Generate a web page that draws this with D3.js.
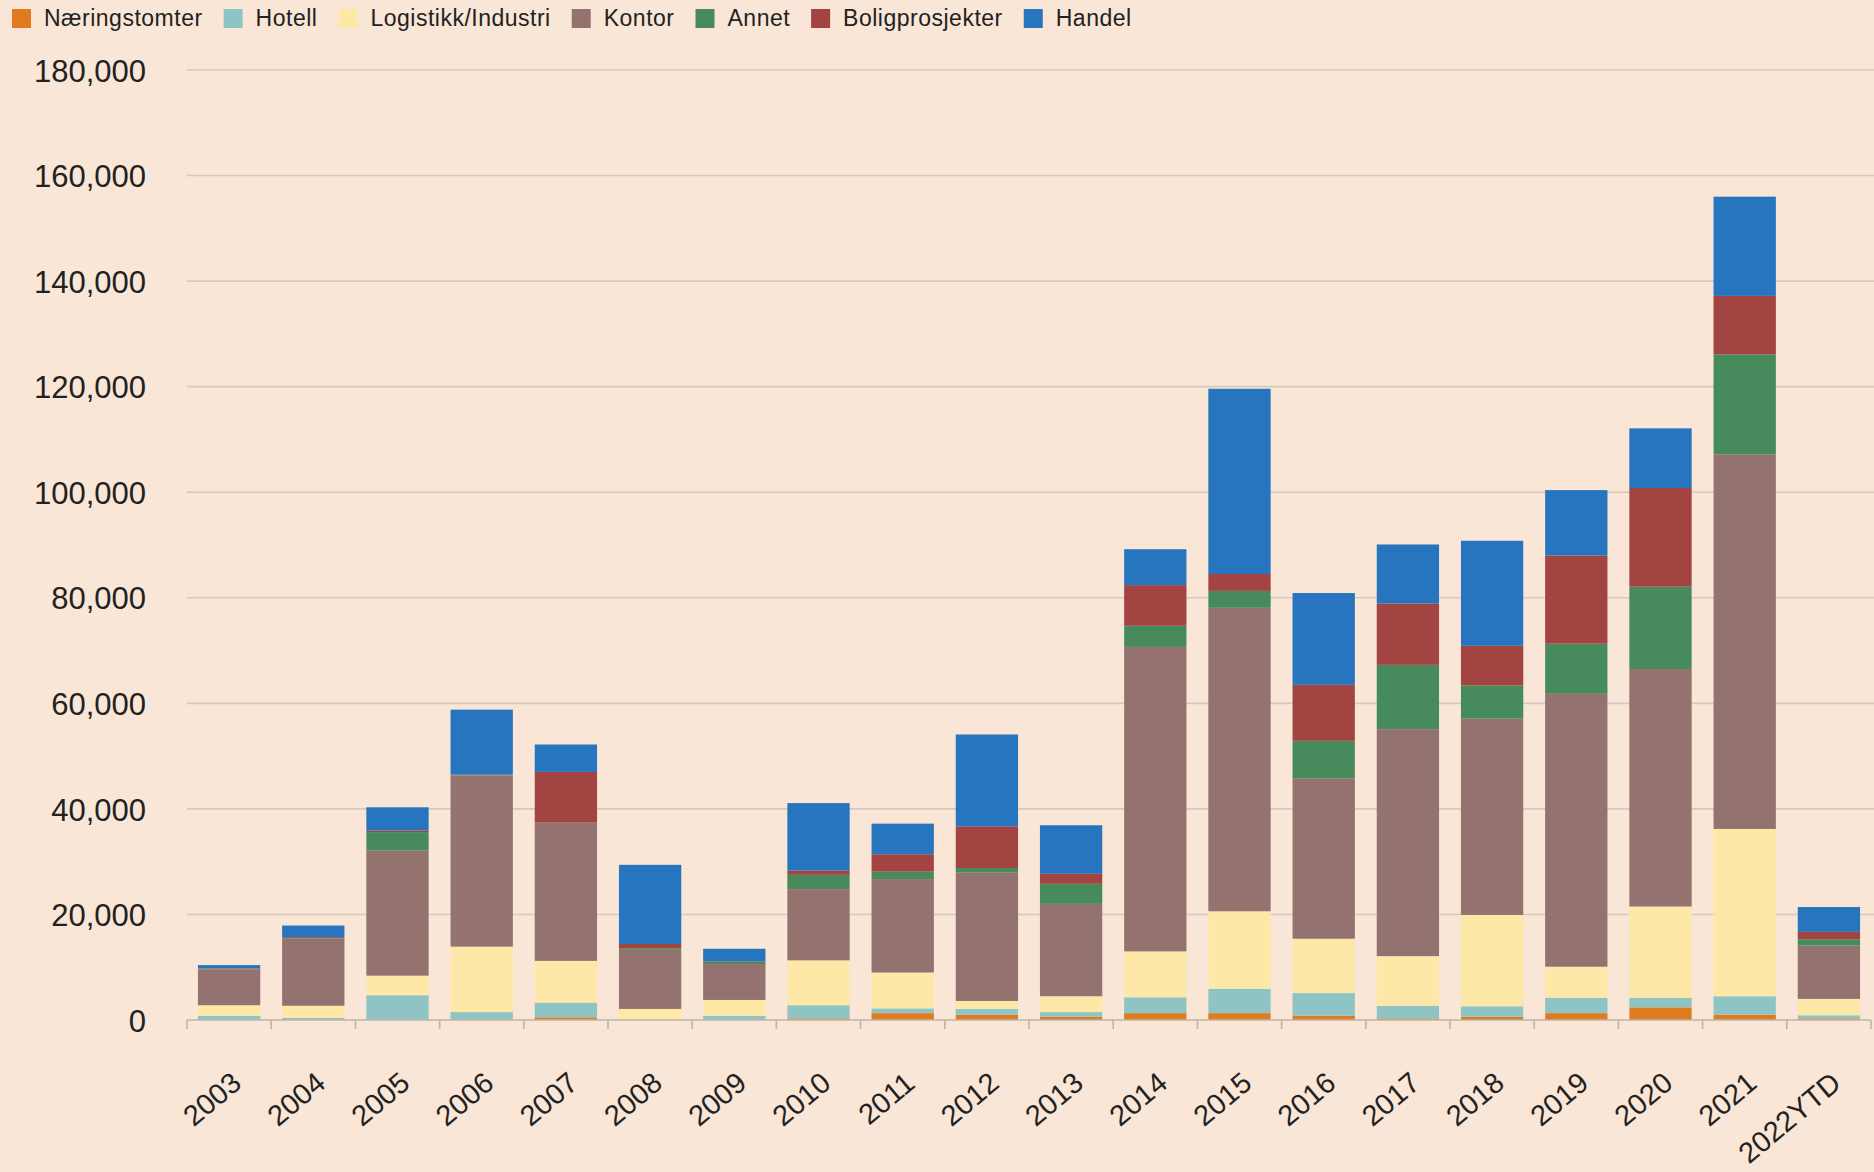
<!DOCTYPE html>
<html>
<head>
<meta charset="utf-8">
<script src="https://cdn.jsdelivr.net/npm/d3@7"></script>
<style>
	html, body { margin: 0; padding: 0; background: #f9e6d6; }
	svg { display: block; font-family: "Liberation Sans", Arial, Helvetica, sans-serif; }
</style>
</head>
<body>
<svg id="chart" width="1874" height="1172"></svg>
<script>
// values in the same unit as the y axis, stacked bottom -> top
const years = ['2003', '2004', '2005', '2006', '2007', '2008', '2009', '2010', '2011', '2012',
	'2013', '2014', '2015', '2016', '2017', '2018', '2019', '2020', '2021', '2022YTD'];

const naeringstomter = [0, 0, 0, 0, 500, 0, 0, 300, 1300, 1000,
	600, 1300, 1300, 800, 300, 600, 1300, 2400, 1000, 300];
const hotell = [800, 400, 4700, 1500, 2800, 0, 800, 2500, 900, 1100,
	900, 3000, 4600, 4300, 2400, 2000, 2900, 1800, 3500, 600];
const logistikk = [2000, 2300, 3700, 12400, 7900, 2100, 3000, 8500, 6800, 1500,
	3000, 8700, 14700, 10300, 9400, 17300, 5900, 17300, 31700, 3100];
const kontor = [6800, 12700, 23700, 32400, 26200, 11200, 6800, 13500, 17700, 24400,
	17500, 57700, 57500, 30400, 43000, 37200, 51700, 45000, 71000, 10100];
const annet = [100, 100, 3500, 100, 0, 300, 400, 2700, 1400, 800,
	3800, 4000, 3200, 7100, 12200, 6300, 9500, 15600, 18900, 1200];
const boligprosjekter = [100, 200, 300, 100, 9600, 800, 100, 800, 3300, 7900,
	1900, 7700, 3200, 10600, 11600, 7500, 16700, 18700, 11100, 1400];
const handel = [600, 2200, 4400, 12300, 5200, 15000, 2400, 12800, 5800, 17400,
	9200, 6800, 35100, 17400, 11200, 19900, 12400, 11300, 18800, 4700];

const seriesNames = ['Næringstomter', 'Hotell', 'Logistikk/Industri', 'Kontor', 'Annet', 'Boligprosjekter', 'Handel'];
const seriesColors = ['#e07b1f', '#8ec5c4', '#fde8a8', '#94726f', '#478a5c', '#a24442', '#2675be'];
const yTicks = [0, 20000, 40000, 60000, 80000, 100000, 120000, 140000, 160000, 180000];

const ChartPane = {
	left: 187,
	right: 1871,
	top: 70,
	bottom: 1020,

	draw: function() {
		const self = this;
		let svg = d3.select('#chart');
		let table = self.buildTable();
		let stacked = d3.stack().keys(seriesNames)(table);
		let xScale = d3.scaleBand()
			.domain(years)
			.range([ self.left, self.right ])
			.paddingInner(0.26)
			.paddingOuter(0.13);
		let yScale = d3.scaleLinear()
			.domain([ 0, 180000 ])
			.range([ self.bottom, self.top ]);

		self.drawGrid(svg, yScale);
		self.drawBars(svg, stacked, xScale, yScale);
		self.drawXAxis(svg, xScale);
		self.drawLegend(svg);
	},

	buildTable: function() {
		let columns = [ naeringstomter, hotell, logistikk, kontor, annet, boligprosjekter, handel ];
		let table = [];

		for (let i = 0; i < years.length; i++) {
			let row = { year: years[i] };
			for (let j = 0; j < seriesNames.length; j++)
				row[seriesNames[j]] = columns[j][i];
			table.push(row);
		}

		return table;
	},

	drawGrid: function(svg, yScale) {
		const self = this;
		let yAxis = d3.axisLeft(yScale)
			.tickValues(yTicks)
			.tickFormat(d3.format(','))
			.tickSize(0)
			.tickPadding(41);

		let axisGroup = svg.append('g')
			.attr('transform', 'translate(' + self.left + ',0)')
			.call(yAxis);

		axisGroup.select('.domain').remove();
		axisGroup.selectAll('text')
			.attr('dy', '0.36em')
			.style('font-family', '"Liberation Sans", Arial, sans-serif')
			.style('font-size', '31px')
			.style('fill', '#222');

		svg.append('g')
			.selectAll('line')
			.data(yTicks.filter(d => d > 0))
			.join('line')
			.attr('x1', self.left)
			.attr('x2', 1874)
			.attr('y1', d => yScale(d))
			.attr('y2', d => yScale(d))
			.style('stroke', '#d3c9bf')
			.style('stroke-width', 1.6);
	},

	drawBars: function(svg, stacked, xScale, yScale) {
		svg.append('g')
			.selectAll('g')
			.data(stacked)
			.join('g')
			.style('fill', (d, i) => seriesColors[i])
			.selectAll('rect')
			.data(d => d)
			.join('rect')
			.attr('x', d => xScale(d.data.year))
			.attr('y', d => yScale(d[1]))
			.attr('width', xScale.bandwidth())
			.attr('height', d => Math.max(0, yScale(d[0]) - yScale(d[1])));
	},

	drawXAxis: function(svg, xScale) {
		const self = this;
		let step = xScale.step();
		let edges = d3.range(years.length + 1).map(i => self.left + i * step);
		let axis = svg.append('g');

		axis.append('line')
			.attr('x1', self.left)
			.attr('x2', self.right)
			.attr('y1', self.bottom)
			.attr('y2', self.bottom)
			.style('stroke', '#bdb4aa')
			.style('stroke-width', 1.6);

		axis.selectAll('line.tick')
			.data(edges)
			.join('line')
			.attr('class', 'tick')
			.attr('x1', d => d)
			.attr('x2', d => d)
			.attr('y1', self.bottom)
			.attr('y2', self.bottom + 9)
			.style('stroke', '#bdb4aa')
			.style('stroke-width', 1.6);

		axis.selectAll('text')
			.data(years)
			.join('text')
			.attr('transform', d => 'translate(' + (xScale(d) + xScale.bandwidth() / 2 + 14) + ',' + (self.bottom + 66) + ') rotate(-40)')
			.attr('text-anchor', 'end')
			.style('font-size', '29px')
			.style('fill', '#222')
			.text(d => d);
	},

	drawLegend: function(svg) {
		let squareSize = 19;
		let x = 12;
		let legend = svg.append('g');

		for (let i = 0; i < seriesNames.length; i++) {
			legend.append('rect')
				.attr('x', x)
				.attr('y', 9)
				.attr('width', squareSize)
				.attr('height', squareSize)
				.style('fill', seriesColors[i]);

			let label = legend.append('text')
				.attr('x', x + squareSize + 13)
				.attr('y', 26)
				.style('font-size', '23px')
				.style('letter-spacing', '0.5px')
				.style('fill', '#222')
				.text(seriesNames[i]);

			x += squareSize + 13 + label.node().getComputedTextLength() + 21;
		}
	}
}

ChartPane.draw();
</script>
</body>
</html>
